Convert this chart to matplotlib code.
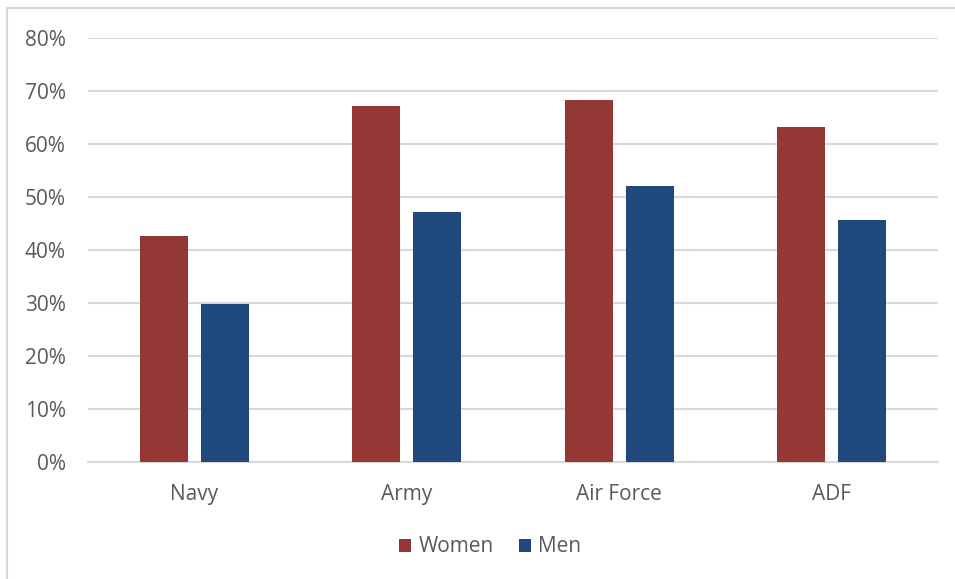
import matplotlib
matplotlib.use("Agg")
import matplotlib.pyplot as plt
import numpy as np
from matplotlib.patches import Rectangle

categories = ["Navy", "Army", "Air Force", "ADF"]
women = [42.7, 67.1, 68.3, 63.2]
men = [29.8, 47.1, 52.1, 45.6]
yticks = [0, 10, 20, 30, 40, 50, 60, 70, 80]
series_names = ["Women", "Men"]

plt.rcParams['font.family'] = ['Open Sans', 'DejaVu Sans']
text_color = "#595959"
grid_color = "#D9D9D9"

fig = plt.figure(figsize=(9.55, 5.79), dpi=100)
ax = fig.add_axes([88/955, 1-462/579, (938-88)/955, (462-38)/579])

x = np.arange(len(categories))
w = 0.226
off = 0.143
ax.bar(x - off, women, width=w, color="#953735", label=series_names[0], zorder=3)
ax.bar(x + off, men, width=w, color="#1F497D", label=series_names[1], zorder=3)

ax.set_xlim(-0.5, len(categories) - 0.5)
ax.set_ylim(0, 80)
ax.set_yticks(yticks)
ax.set_yticklabels([f"{t}%" for t in yticks])
ax.set_xticks(x)
ax.set_xticklabels(categories)
ax.yaxis.grid(True, color=grid_color, lw=1.5, zorder=0)
ax.set_axisbelow(True)
for s in ["top", "right", "left"]:
    ax.spines[s].set_visible(False)
ax.spines["bottom"].set_color(grid_color)
ax.spines["bottom"].set_linewidth(1.5)
ax.tick_params(axis="both", length=0, colors=text_color, labelsize=15)
ax.tick_params(axis="y", pad=16)
ax.tick_params(axis="x", pad=15.5)

leg = fig.legend(loc="center", bbox_to_anchor=(490/955, 1-547/579), ncol=2,
                 frameon=False, fontsize=15, handlelength=0.6, handleheight=0.6,
                 handletextpad=0.35, columnspacing=1.2)
for t in leg.get_texts():
    t.set_color(text_color)

fig.patches.append(Rectangle((7/955, -0.1), 1.1, 1-8/579+0.1, transform=fig.transFigure,
                             fill=False, edgecolor=grid_color, lw=1.5))

fig.savefig("out.png", dpi=100)
